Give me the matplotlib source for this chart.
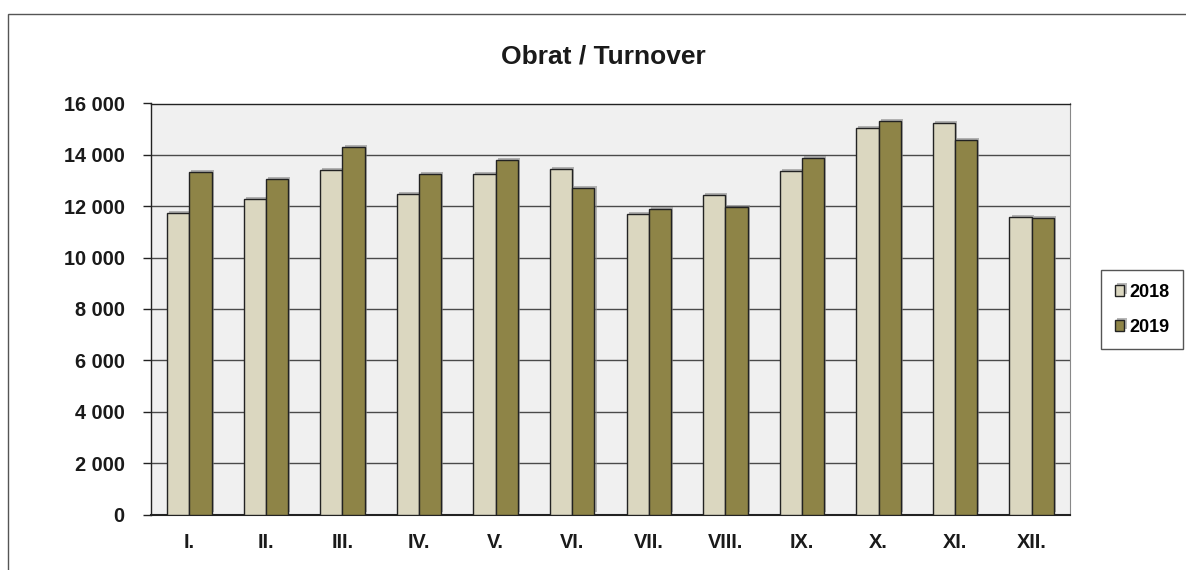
import matplotlib.pyplot as plt
import matplotlib.patheffects as pe
from matplotlib.patches import Rectangle
from matplotlib.ticker import FuncFormatter
import numpy as np

plt.rcParams['font.family'] = ['Liberation Sans', 'DejaVu Sans']

# data
months = ['I.', 'II.', 'III.', 'IV.', 'V.', 'VI.', 'VII.', 'VIII.', 'IX.', 'X.', 'XI.', 'XII.']
v2018 = [11750, 12270, 13410, 12465, 13255, 13460, 11690, 12430, 13370, 15035, 15230, 11570]
v2019 = [13320, 13050, 14295, 13245, 13790, 12700, 11905, 11960, 13890, 15305, 14570, 11555]

c2018 = '#dbd7c0'
c2019 = '#8e8447'

fig = plt.figure(figsize=(11.86, 5.70), dpi=100)

# outer chart frame (cut off on the right and bottom)
fig.patches.append(Rectangle((7.5 / 1186, -0.05), 1.2, 1 - 13.5 / 570 + 0.05,
                             transform=fig.transFigure, fill=False,
                             edgecolor='#555555', linewidth=1.0))

ax = fig.add_axes([151 / 1186, 55.5 / 570, 919 / 1186, 411 / 570])
ax.set_facecolor('#f0f0f0')

x = np.arange(len(months))
w = 0.29
shadow = [pe.SimplePatchShadow(offset=(1.5, 1.5), shadow_rgbFace='#888888', alpha=0.6), pe.Normal()]
b1 = ax.bar(x - w / 2, v2018, w, color=c2018, edgecolor='#222222', linewidth=1.0,
            label='2018', zorder=3)
b2 = ax.bar(x + w / 2, v2019, w, color=c2019, edgecolor='#222222', linewidth=1.0,
            label='2019', zorder=3)
for b in list(b1) + list(b2):
    b.set_path_effects(shadow)

ax.set_xlim(-0.5, len(months) - 0.5)
ax.set_ylim(0, 16000)
ax.set_yticks(range(0, 16001, 2000))
ax.yaxis.set_major_formatter(FuncFormatter(lambda v, p: f'{int(v):,}'.replace(',', ' ')))
ax.set_xticks(x)
ax.set_xticklabels(months)
ax.grid(axis='y', color='#4a4a4a', linewidth=1.0, zorder=1)
ax.set_axisbelow(True)

for s in ['top', 'left']:
    ax.spines[s].set_color('#222222')
    ax.spines[s].set_linewidth(1.0)
ax.spines['right'].set_color('#888888')
ax.spines['bottom'].set_color('#222222')
ax.spines['bottom'].set_linewidth(1.5)

ax.tick_params(axis='y', length=6, width=1, color='#222222', pad=13, labelsize=14.3)
ax.tick_params(axis='x', length=0, pad=13, labelsize=14.3)
for lbl in ax.get_xticklabels() + ax.get_yticklabels():
    lbl.set_fontweight('bold')
    lbl.set_color('#1a1a1a')

fig.text(603 / 1186, 1 - 57 / 570, 'Obrat / Turnover', ha='center', va='center',
         fontsize=19, fontweight='bold', color='#1a1a1a')

leg = fig.legend(handles=[b1, b2], labels=['2018', '2019'],
                 loc='upper left', bbox_to_anchor=(1101 / 1186, 1 - 270 / 570),
                 fancybox=False, framealpha=1, edgecolor='#555555',
                 prop={'weight': 'bold', 'size': 13},
                 handlelength=0.55, handleheight=0.55, handletextpad=0.25,
                 labelspacing=1.0, borderpad=0.75, borderaxespad=0)
leg.get_frame().set_linewidth(1.0)

fig.savefig('out.png', dpi=100)
